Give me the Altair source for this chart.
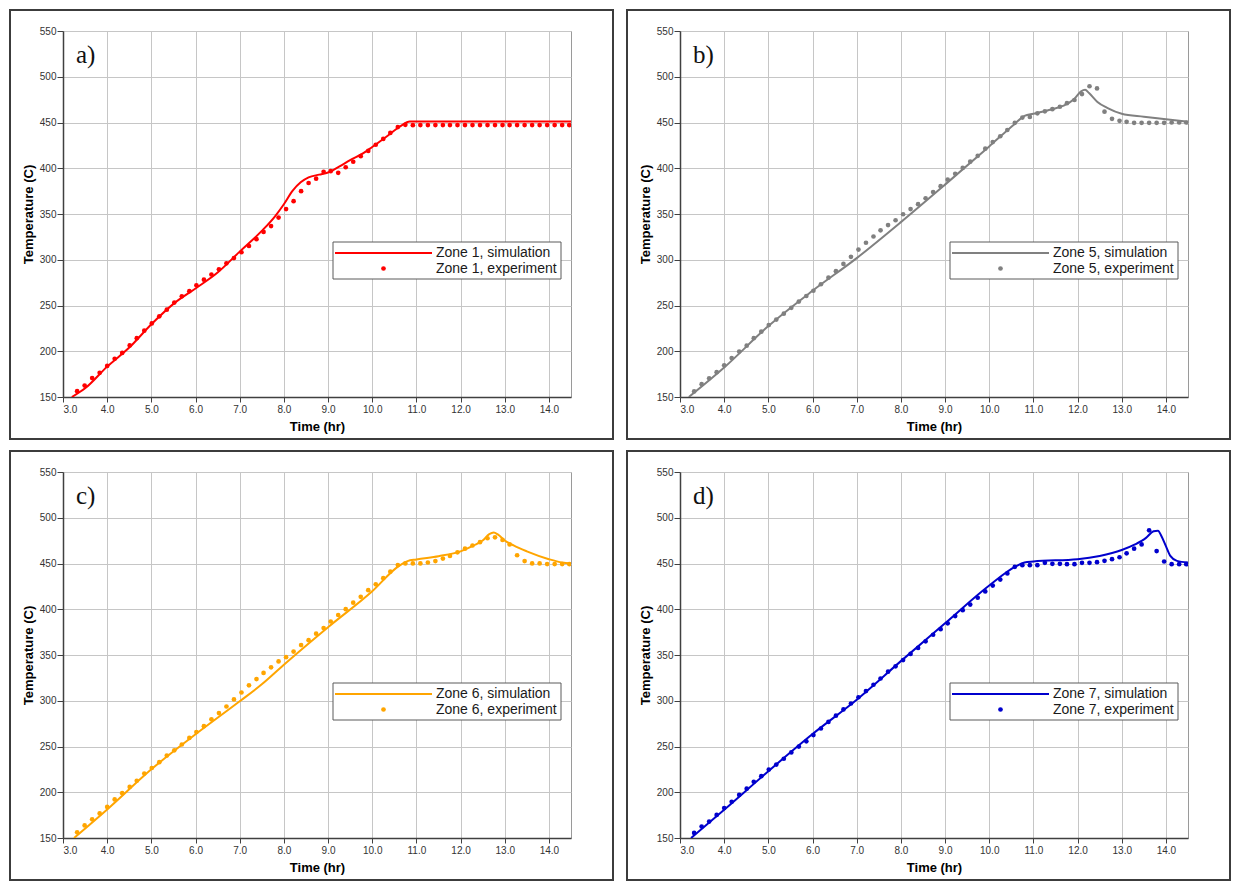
import altair as alt
import pandas as pd

# ---------------- data ----------------
exp_time = [3.32, 3.49, 3.66, 3.83, 4.00, 4.17, 4.34, 4.51, 4.67, 4.84,
            5.01, 5.18, 5.35, 5.52, 5.69, 5.86, 6.02, 6.19, 6.36, 6.53,
            6.70, 6.87, 7.04, 7.21, 7.38, 7.54, 7.71, 7.88, 8.05, 8.22,
            8.39, 8.56, 8.73, 8.90, 9.06, 9.23, 9.40, 9.57, 9.74, 9.91,
            10.08, 10.25, 10.41, 10.58, 10.75, 10.92, 11.09, 11.26, 11.43, 11.60,
            11.76, 11.93, 12.10, 12.27, 12.44, 12.61, 12.78, 12.95, 13.11, 13.28,
            13.45, 13.62, 13.79, 13.96, 14.13, 14.30, 14.46]

zone1_exp = [156.4, 162.5, 170.7, 176.4, 184.0, 191.8, 198.2, 206.4, 214.3, 222.5,
             230.4, 238.2, 245.4, 253.2, 260.0, 265.7, 272.1, 278.2, 283.9, 289.6,
             296.1, 301.8, 308.2, 315.0, 322.5, 330.4, 336.8, 346.1, 355.4, 364.0,
             375.0, 383.9, 388.6, 396.1, 396.8, 395.0, 401.1, 407.1, 413.2, 418.9,
             425.7, 432.1, 438.6, 445.0, 447.5, 447.1, 447.2, 447.2, 447.2, 447.2,
             447.2, 447.2, 447.2, 447.2, 447.2, 447.2, 447.2, 447.2, 447.2, 447.2,
             447.2, 447.2, 447.2, 447.2, 447.2, 447.2, 447.2]
zone5_exp = [156.1, 164.0, 170.4, 177.1, 184.6, 192.5, 199.7, 206.1, 214.3, 221.4,
             228.6, 234.6, 241.1, 247.5, 254.3, 260.4, 266.1, 273.2, 280.4, 287.5,
             295.4, 303.2, 311.1, 318.6, 325.4, 332.2, 337.9, 343.2, 349.7, 355.4,
             360.7, 367.2, 374.0, 380.4, 387.5, 394.0, 400.4, 407.2, 413.6, 421.4,
             428.6, 435.0, 441.8, 449.6, 455.4, 456.1, 460.0, 462.2, 464.6, 467.2,
             471.1, 474.6, 481.1, 489.6, 487.2, 461.8, 454.0, 451.8, 450.7, 449.6,
             449.6, 449.6, 449.6, 449.6, 450.0, 450.0, 450.0]
zone6_exp = [156.2, 163.7, 170.4, 176.9, 184.0, 192.2, 199.0, 205.8, 212.6, 220.4,
             226.5, 232.9, 240.1, 245.8, 252.2, 259.4, 265.8, 272.2, 279.7, 286.5,
             293.7, 301.5, 309.0, 316.9, 323.7, 330.4, 336.5, 343.0, 347.6, 353.7,
             360.8, 366.2, 373.3, 379.4, 386.6, 393.7, 400.1, 407.2, 413.6, 420.8,
             427.2, 434.0, 441.1, 448.3, 450.1, 450.1, 450.1, 451.1, 452.6, 455.4,
             458.3, 462.2, 466.2, 469.7, 473.3, 477.6, 478.6, 475.8, 470.8, 459.0,
             452.6, 450.1, 450.1, 449.4, 449.4, 449.4, 449.4]
zone7_exp = [155.5, 162.6, 168.0, 175.2, 182.7, 189.6, 197.1, 203.9, 211.5, 217.6,
             224.8, 230.2, 236.6, 243.5, 249.9, 255.7, 262.5, 269.7, 276.9, 283.7,
             290.5, 297.0, 303.8, 310.6, 317.5, 324.3, 331.8, 337.6, 344.4, 351.2,
             357.7, 364.9, 372.1, 378.2, 384.6, 392.5, 399.0, 405.1, 412.6, 419.5,
             425.9, 432.4, 439.2, 446.4, 448.2, 448.2, 448.2, 450.7, 449.6, 449.6,
             449.3, 449.3, 450.7, 450.7, 451.4, 452.9, 454.7, 456.8, 461.1, 466.2,
             470.8, 486.3, 463.6, 452.2, 449.3, 449.3, 449.3]

zone1_sim_t = [3.2, 3.5, 4.0, 4.5, 5.0, 5.5, 6.0, 6.5, 7.0, 7.5, 7.8, 8.0, 8.2, 8.38,
               8.56, 8.8, 9.0, 9.25, 9.5, 9.8, 10.0, 10.35, 10.65, 10.85, 11.0, 12.0,
               13.0, 14.0, 14.5]
zone1_sim = [150.0, 159.5, 183.2, 204.0, 229.5, 251.8, 268.6, 286.0, 308.9, 331.5, 347.5,
             360.7, 375.5, 384.6, 390.0, 393.0, 395.4, 401.8, 408.8, 416.5, 423.2, 435.5,
             446.4, 451.0, 451.2, 451.2, 451.2, 451.2, 451.2]
zone5_sim_t = [3.2, 4.0, 5.0, 6.0, 7.0, 8.0, 9.0, 10.0, 10.57, 10.8, 11.0, 11.4, 11.7,
               11.93, 12.08, 12.17, 12.26, 12.45, 12.67, 13.0, 13.5, 14.0, 14.5]
zone5_sim = [150.0, 182.2, 227.5, 266.1, 301.8, 341.1, 382.1, 423.9, 448.2, 457.2, 459.6,
             464.3, 468.6, 476.0, 484.0, 485.7, 482.2, 472.5, 466.1, 459.6, 456.4, 453.6,
             450.7]
zone6_sim_t = [3.25, 4.0, 5.0, 6.0, 7.0, 7.5, 8.0, 9.0, 10.0, 10.6, 10.8, 11.0, 11.5,
               12.0, 12.3, 12.5, 12.65, 12.75, 12.85, 13.0, 13.2, 13.5, 14.0, 14.3, 14.5]
zone6_sim = [150.0, 181.2, 225.1, 263.3, 299.4, 318.0, 339.4, 380.4, 419.7, 447.2, 452.6,
             454.4, 458.0, 463.3, 469.7, 475.1, 482.2, 484.0, 481.5, 475.1, 469.7, 463.3,
             454.7, 451.1, 450.1]
zone7_sim_t = [3.25, 4.0, 5.0, 6.0, 7.0, 8.0, 9.0, 10.0, 10.6, 10.8, 11.0, 12.0, 12.5,
               13.0, 13.3, 13.55, 13.72, 13.82, 13.9, 14.0, 14.1, 14.25, 14.5]
zone7_sim = [150.0, 180.9, 223.0, 263.6, 301.1, 343.3, 384.6, 425.9, 446.8, 451.1, 452.2,
             454.7, 458.3, 464.7, 470.8, 478.0, 485.2, 485.9, 479.8, 469.0, 458.3, 452.9,
             451.1]

zone_names = ["Zone 1", "Zone 5", "Zone 6", "Zone 7"]
panel_tags = ["a)", "b)", "c)", "d)"]
zone_colors = ["#ff0000", "#808080", "#ffa500", "#0000cd"]
exp_series = [zone1_exp, zone5_exp, zone6_exp, zone7_exp]
sim_times = [zone1_sim_t, zone5_sim_t, zone6_sim_t, zone7_sim_t]
sim_series = [zone1_sim, zone5_sim, zone6_sim, zone7_sim]

x_ticks = [3.0, 4.0, 5.0, 6.0, 7.0, 8.0, 9.0, 10.0, 11.0, 12.0, 13.0, 14.0]
y_ticks = [150, 200, 250, 300, 350, 400, 450, 500, 550]

# ---------------- layout ----------------
W, H = 508, 366
FONT = "Liberation Sans, Arial, sans-serif"
one = pd.DataFrame({"k": [0]})

x_scale = alt.Scale(domain=[3.0, 14.5], nice=False, zero=False)
y_scale = alt.Scale(domain=[150, 550], nice=False, zero=False)
x_axis = alt.Axis(title="Time (hr)", values=x_ticks, format=".1f", grid=True,
                  tickSize=5, labelPadding=2, titlePadding=6)
y_axis = alt.Axis(title="Temperature (C)", values=y_ticks, grid=True,
                  tickSize=6, labelPadding=1, titlePadding=4)


def panel(i):
    c = zone_colors[i]
    n = min(len(exp_time), len(exp_series[i]))
    exp = pd.DataFrame({"t": exp_time[:n], "T": exp_series[i][:n]})
    m = min(len(sim_times[i]), len(sim_series[i]))
    sim = pd.DataFrame({"t": sim_times[i][:m], "T": sim_series[i][:m]})

    frame = alt.Chart(one).mark_rect(fill="white", fillOpacity=0, stroke="#3c3c3c",
                                     strokeWidth=2).encode(
        x=alt.value(-53), x2=alt.value(W + 42), y=alt.value(-21), y2=alt.value(H + 42))

    line = alt.Chart(sim).mark_line(color=c, strokeWidth=2, interpolate="monotone",
                                    clip=True).encode(
        x=alt.X("t:Q", scale=x_scale, axis=x_axis),
        y=alt.Y("T:Q", scale=y_scale, axis=y_axis))

    pts = alt.Chart(exp).mark_circle(color=c, size=22, opacity=1, clip=True).encode(
        x=alt.X("t:Q", scale=x_scale, axis=x_axis),
        y=alt.Y("T:Q", scale=y_scale, axis=y_axis))

    box = alt.Chart(one).mark_rect(fill="white", stroke="#5a5a5a", strokeWidth=1).encode(
        x=alt.value(270), x2=alt.value(498), y=alt.value(211), y2=alt.value(248))
    key_line = alt.Chart(one).mark_rule(color=c, strokeWidth=2).encode(
        x=alt.value(272), x2=alt.value(369), y=alt.value(222))
    key_dot = alt.Chart(one).mark_circle(color=c, size=22, opacity=1).encode(
        x=alt.value(320.5), y=alt.value(237.5))
    key_t1 = alt.Chart(one).mark_text(text=f"{zone_names[i]}, simulation", align="left",
                                      baseline="middle", font=FONT, fontSize=14,
                                      color="#1a1a1a").encode(
        x=alt.value(373), y=alt.value(222))
    key_t2 = alt.Chart(one).mark_text(text=f"{zone_names[i]}, experiment", align="left",
                                      baseline="middle", font=FONT, fontSize=14,
                                      color="#1a1a1a").encode(
        x=alt.value(373), y=alt.value(237.5))

    tag = alt.Chart(one).mark_text(text=panel_tags[i], align="left", baseline="alphabetic",
                                   font="Liberation Serif", fontSize=25,
                                   color="#111111").encode(
        x=alt.value(13), y=alt.value(32))

    return alt.layer(frame, line, pts, box, key_line, key_dot, key_t1, key_t2, tag).properties(
        width=W, height=H)


chart = alt.vconcat(
    alt.hconcat(panel(0), panel(1), spacing=10),
    alt.hconcat(panel(2), panel(3), spacing=10),
    spacing=8,
).properties(
    padding=0, background="white"
).configure_view(
    stroke="#9a9a9a", strokeWidth=1
).configure_axis(
    labelFont=FONT, labelFontSize=10, labelColor="#333333",
    titleFont=FONT, titleFontSize=13, titleFontWeight="bold", titleColor="#000000",
    domainColor="#404040", domainWidth=1.5, tickColor="#404040", tickWidth=1,
    gridColor="#c6c6c6", gridWidth=1,
)

chart.save("out.html", embed_options={"renderer": "svg", "actions": False})
